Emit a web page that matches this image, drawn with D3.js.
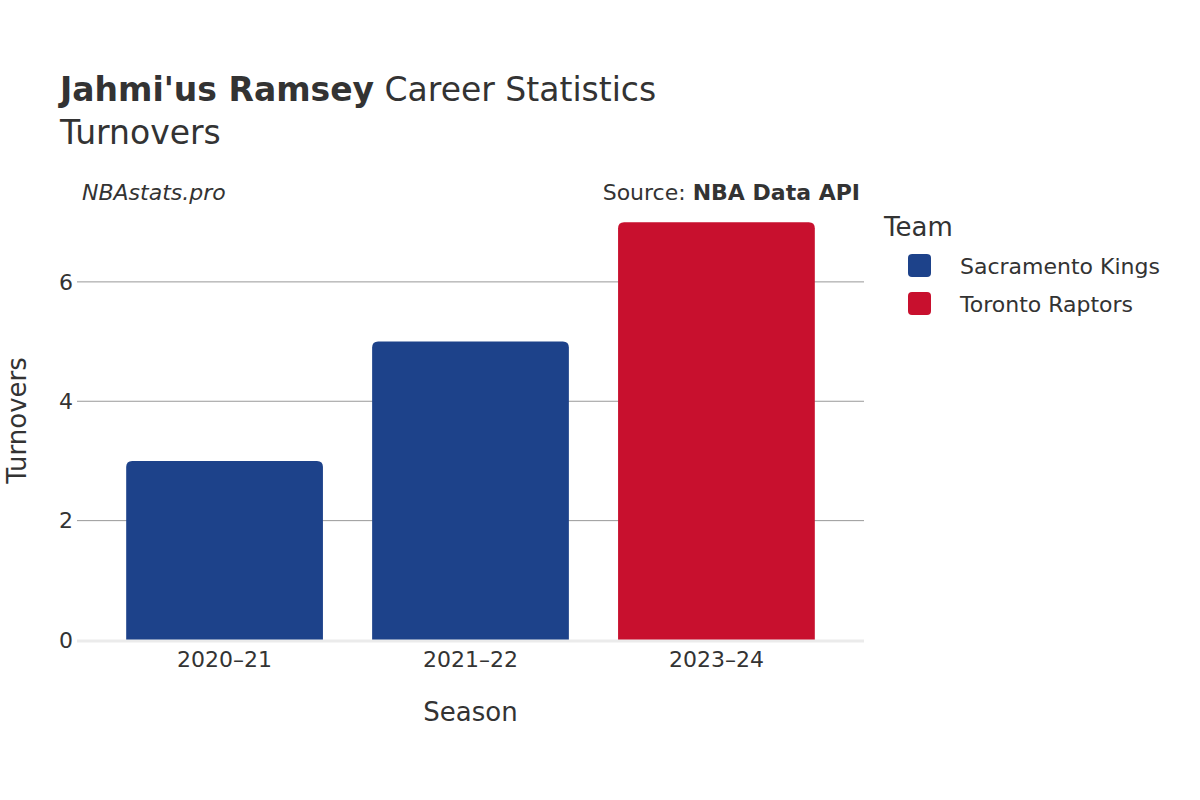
<!DOCTYPE html>
<html><head><meta charset="utf-8">
<script src="https://cdn.jsdelivr.net/npm/d3@7"></script>
<style>body{margin:0;background:#fff;font-family:"DejaVu Sans",sans-serif;}</style>
</head><body><div id="chart"></div>
<script>
const seasons = ["2020–21", "2021–22", "2023–24"];
const turnovers = [3, 5, 7];
const teams = ["Sacramento Kings", "Sacramento Kings", "Toronto Raptors"];
const teamNames = ["Sacramento Kings", "Toronto Raptors"];
const teamColors = ["#1d428a", "#c8102e"];
const yTicks = [0, 2, 4, 6];

var margin = {top: 221, left: 77, right: 336, bottom: 160},
    W = 1200, H = 800,
    width = W - margin.left - margin.right,
    height = H - margin.top - margin.bottom;

var svg = d3.select("#chart").append("svg").attr("width", W).attr("height", H);
var g = svg.append("g").attr("transform", "translate(" + margin.left + "," + margin.top + ")");

var x = d3.scaleBand().domain(seasons).range([0, width]).padding(0.2);
var y = d3.scaleLinear().domain([0, 7.02]).range([height, 0]);
var color = d3.scaleOrdinal().domain(teamNames).range(teamColors);

// grid
g.selectAll(".grid").data(yTicks.filter(d => d > 0)).enter().append("line")
  .attr("x1", 0).attr("x2", width).attr("y1", d => y(d)).attr("y2", d => y(d))
  .attr("stroke", "#999").attr("stroke-width", 1);

// bars with rounded top
function barPath(x0, w, top, bottom, r) {
  return "M" + x0 + "," + bottom + "V" + (top + r) + "Q" + x0 + "," + top + " " + (x0 + r) + "," + top +
    "H" + (x0 + w - r) + "Q" + (x0 + w) + "," + top + " " + (x0 + w) + "," + (top + r) + "V" + bottom + "Z";
}
g.selectAll(".bar").data(seasons).enter().append("path")
  .attr("d", (s, i) => barPath(x(s), x.bandwidth(), y(turnovers[i]), y(0), 6))
  .attr("fill", (s, i) => color(teams[i]));

// zero line
g.append("line").attr("x1", 0).attr("x2", width).attr("y1", y(0) + 1).attr("y2", y(0) + 1)
  .attr("stroke", "#ebebeb").attr("stroke-width", 3);

// axes labels
g.selectAll(".yt").data(yTicks).enter().append("text")
  .attr("x", -4).attr("y", d => y(d)).attr("dy", "0.35em").attr("text-anchor", "end")
  .attr("font-size", 22).attr("fill", "#333").text(d => d);
g.selectAll(".xt").data(seasons).enter().append("text")
  .attr("x", d => x(d) + x.bandwidth() / 2).attr("y", height + 27).attr("text-anchor", "middle")
  .attr("font-size", 22).attr("fill", "#333").text(d => d);

svg.append("text").attr("x", margin.left + width / 2).attr("y", 721).attr("text-anchor", "middle")
  .attr("font-size", 26).attr("fill", "#333").text("Season");
svg.append("text").attr("transform", "translate(26," + (margin.top + height / 2 - 10) + ") rotate(-90)")
  .attr("text-anchor", "middle").attr("font-size", 26).attr("fill", "#333").text("Turnovers");

// titles
var t = svg.append("text").attr("x", 60).attr("y", 101).attr("font-size", 33).attr("fill", "#333");
t.append("tspan").attr("font-weight", "bold").text("Jahmi'us Ramsey");
t.append("tspan").text(" Career Statistics");
svg.append("text").attr("x", 60).attr("y", 144).attr("font-size", 33).attr("fill", "#333").text("Turnovers");

svg.append("text").attr("x", 82).attr("y", 200).attr("font-size", 22).attr("font-style", "italic")
  .attr("fill", "#333").text("NBAstats.pro");
var s = svg.append("text").attr("x", 860).attr("y", 200).attr("text-anchor", "end").attr("font-size", 22).attr("fill", "#333");
s.append("tspan").text("Source: ");
s.append("tspan").attr("font-weight", "bold").text("NBA Data API");

// legend
svg.append("text").attr("x", 884).attr("y", 236).attr("font-size", 26).attr("fill", "#333").text("Team");
var lg = svg.selectAll(".lg").data(teamNames).enter().append("g")
  .attr("transform", (d, i) => "translate(908," + (254 + i * 38) + ")");
lg.append("rect").attr("width", 23).attr("height", 23).attr("rx", 4).attr("fill", d => color(d));
lg.append("text").attr("x", 52).attr("y", 12).attr("dy", "0.35em").attr("font-size", 22).attr("fill", "#333").text(d => d);
</script></body></html>
